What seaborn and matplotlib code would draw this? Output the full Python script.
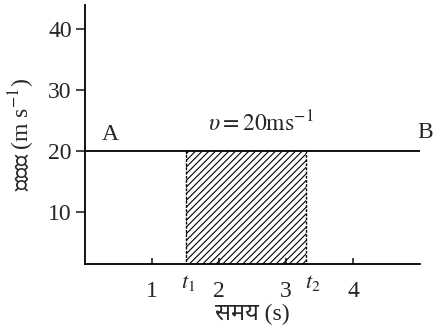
import matplotlib
matplotlib.use("Agg")
import matplotlib.pyplot as plt
import pandas as pd
import seaborn as sns

# line AB: constant velocity
time = [0, 5.02]
velocity = [20, 20]
t1, t2 = 1.5, 3.3
x_ticks = [1, 2, 3, 4]
y_ticks = [10, 20, 30, 40]

sns.set_style("ticks")
plt.rcParams['font.family'] = ['Liberation Serif', 'Noto Sans', 'DejaVu Sans']
plt.rcParams['mathtext.fontset'] = 'stix'
plt.rcParams['hatch.linewidth'] = 0.8

fs = 17
fig = plt.figure(figsize=(4.34, 3.34), dpi=100)
ax = fig.add_axes([0.196, 0.21, 0.772, 0.775])

df = pd.DataFrame({'t': time, 'v': velocity})
sns.lineplot(data=df, x='t', y='v', color='black', lw=1.3, ax=ax)

# shaded area = displacement between t1 and t2
ax.fill_between([t1, t2], 0, 20, facecolor='none', edgecolor='black',
                hatch='/////', linewidth=0)
ax.vlines([t1, t2], 0, 20, colors='black', linestyles=(0, (2, 1)), lw=1)

ax.set_xlim(0, 5)
ax.set_ylim(1.6, 43.9)
ax.set_xticks(x_ticks)
ax.set_yticks(y_ticks)
ax.tick_params(axis='x', direction='in', length=4, width=1.2, pad=12, labelsize=fs)
ax.tick_params(axis='y', direction='out', length=6.5, width=1.2, pad=3, labelsize=fs)
sns.despine(ax=ax)
for s in ['left', 'bottom']:
    ax.spines[s].set_linewidth(1.3)
    ax.spines[s].set_color('black')

ax.text(0.37, 22.8, 'A', fontsize=fs, ha='center', va='center')
ax.text(5.07, 23, 'B', fontsize=fs, ha='center', va='center', clip_on=False)
ax.text(2.62, 24.5, r'$\upsilon = 20\mathrm{ms}^{-1}$', fontsize=fs,
        ha='center', va='center')
ax.text(t1 + 0.04, -1.6, r'$t_1$', fontsize=fs - 1, ha='center', va='center', clip_on=False)
ax.text(t2 + 0.1, -1.6, r'$t_2$', fontsize=fs - 1, ha='center', va='center', clip_on=False)

ax.set_xlabel('समय (s)', fontsize=fs, labelpad=2)
ax.set_ylabel('वेग (m s$^{-1}$)', fontsize=fs, labelpad=8)

fig.savefig('out.png', dpi=100)
